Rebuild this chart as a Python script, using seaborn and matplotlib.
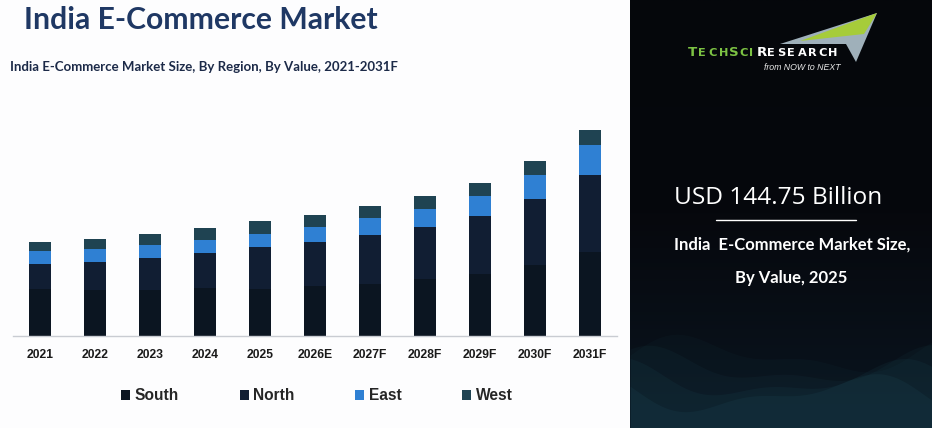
import numpy as np
import pandas as pd
import matplotlib
matplotlib.use("Agg")
import matplotlib.pyplot as plt
from matplotlib.patches import Patch, Polygon
import seaborn as sns

# values in USD billion
years = ["2021", "2022", "2023", "2024", "2025", "2026E", "2027F", "2028F", "2029F", "2030F", "2031F"]
south = [59.0, 57.4, 57.4, 59.9, 58.6, 62.8, 65.3, 71.6, 77.8, 89.1, 105.5]
north = [31.4, 35.5, 40.6, 44.3, 53.1, 55.2, 61.5, 65.3, 72.8, 82.9, 96.7]
east = [16.3, 16.3, 15.9, 16.3, 16.3, 18.8, 21.3, 22.6, 25.1, 30.1, 37.7]
west = [11.3, 12.9, 14.2, 15.1, 16.7, 15.1, 15.1, 16.3, 16.3, 17.6, 18.8]
regions = ["South", "North", "East", "West"]
colors = ["#0b1521", "#111e33", "#2f80d3", "#1f4352"]

W, H = 932, 428


def fx(px):
    return px / W


def fy(py):
    return 1 - py / H


sns.set_style("white")
plt.rcParams["font.family"] = ["Liberation Sans", "DejaVu Sans"]

fig = plt.figure(figsize=(9.32, 4.28), dpi=100)
fig.patch.set_facecolor("#fdfdfe")

# dark side panel
side = fig.add_axes([fx(630), 0, fx(302), 1])
side.set_xlim(0, 1)
side.set_ylim(0, 1)
side.axis("off")
grad = np.linspace(0, 1, 200).reshape(-1, 1)
side.imshow(grad, extent=[0, 1, 0, 1], origin="lower", aspect="auto",
            cmap=matplotlib.colors.LinearSegmentedColormap.from_list("bg", ["#0a1520", "#06080d", "#05070b"]))
xs = np.linspace(0, 1, 200)
for k, a in enumerate([0.05, 0.07, 0.09, 0.11]):
    base = 0.17 - 0.03 * k
    y = base + 0.035 * np.sin(xs * 7 + k * 0.9) + 0.02 * np.sin(xs * 13 + k)
    side.fill_between(xs, 0, y, color="#2a6a78", alpha=a, lw=0)

# stacked bars, drawn as cumulative totals from the top down
df = pd.DataFrame({"year": years, "South": south, "North": north, "East": east, "West": west})
ax = fig.add_axes([fx(13), fy(336), fx(617 - 13), fy(120) - fy(336)])
cum = df[regions].cumsum(axis=1)
for reg, col in reversed(list(zip(regions, colors))):
    sns.barplot(x=df["year"], y=cum[reg], color=col, width=0.4, saturation=1,
                edgecolor="none", linewidth=0, ax=ax)
ax.set_xlim(-0.49, 10.49)
ax.set_ylim(0, 271)
ax.set_facecolor("none")
ax.set_xlabel("")
ax.set_ylabel("")
ax.set_yticks([])
for s in ["top", "right", "left"]:
    ax.spines[s].set_visible(False)
ax.spines["bottom"].set_color("#c9ccd2")
ax.spines["bottom"].set_linewidth(1)
ax.tick_params(axis="x", length=0, pad=9.5)
for lbl in ax.get_xticklabels():
    lbl.set_fontweight("bold")
    lbl.set_fontsize(8.7)
    lbl.set_color("#1a1a1a")

handles = [Patch(facecolor=c, edgecolor="none", label=r) for r, c in zip(regions, colors)]
fig.legend(handles=handles, loc="center", bbox_to_anchor=(fx(317), fy(396)), ncol=4,
           frameon=False, handlelength=0.58, handleheight=0.58, handletextpad=0.3,
           columnspacing=3.9, prop={"weight": "bold", "size": 11.2})

# titles
fig.text(fx(24), fy(20), "India E-Commerce Market", fontsize=21.7, fontweight="bold",
         color="#1f3864", family=["Lato", "DejaVu Sans"], va="center", ha="left")
fig.text(fx(10), fy(67), "India E-Commerce Market Size, By Region, By Value, 2021-2031F", fontsize=9.5,
         fontweight="bold", color="#1c2a48", family=["Lato", "DejaVu Sans"], va="center", ha="left")

# logo
fig.patches.append(Polygon([(fx(780), fy(44)), (fx(877), fy(13)), (fx(856), fy(62)), (fx(846), fy(44))],
                           closed=True, transform=fig.transFigure, facecolor="#9fb0ba", edgecolor="none"))
fig.patches.append(Polygon([(fx(800), fy(41)), (fx(877), fy(13)), (fx(864), fy(34))],
                           closed=True, transform=fig.transFigure, facecolor="#a6cc3a", edgecolor="none"))
logo_x = 688
for word, col in [("TECHSCI", "#7cc243"), ("RESEARCH", "white")]:
    for i, ch in enumerate(word):
        big = i == 0 or (word == "TECHSCI" and i == 4)
        fig.text(fx(logo_x), fy(56), ch, fontsize=9.6 if big else 8.2, fontweight="bold", color=col,
                 va="baseline", ha="left", family=["DejaVu Sans"])
        logo_x += 4.5 if ch == "I" else 10.2
    logo_x += 3
fig.text(fx(841), fy(67), "from NOW to NEXT", fontsize=6.3, style="italic", color="#e8e8e8",
         va="center", ha="right")

# headline figure
fig.text(fx(778), fy(198), "USD 144.75 Billion", fontsize=17.6, color="white",
         family=["Open Sans", "DejaVu Sans"], va="center", ha="center")
fig.add_artist(plt.Line2D([fx(716), fx(856)], [fy(220), fy(220)], color="white", lw=1,
                          transform=fig.transFigure))
fig.text(fx(792), fy(245), "India  E-Commerce Market Size,", fontsize=12, fontweight="bold",
         color="white", family=["Lato", "DejaVu Sans"], va="center", ha="center")
fig.text(fx(791), fy(278), "By Value, 2025", fontsize=12, fontweight="bold",
         color="white", family=["Lato", "DejaVu Sans"], va="center", ha="center")

fig.savefig("out.png", dpi=100, facecolor=fig.get_facecolor())
